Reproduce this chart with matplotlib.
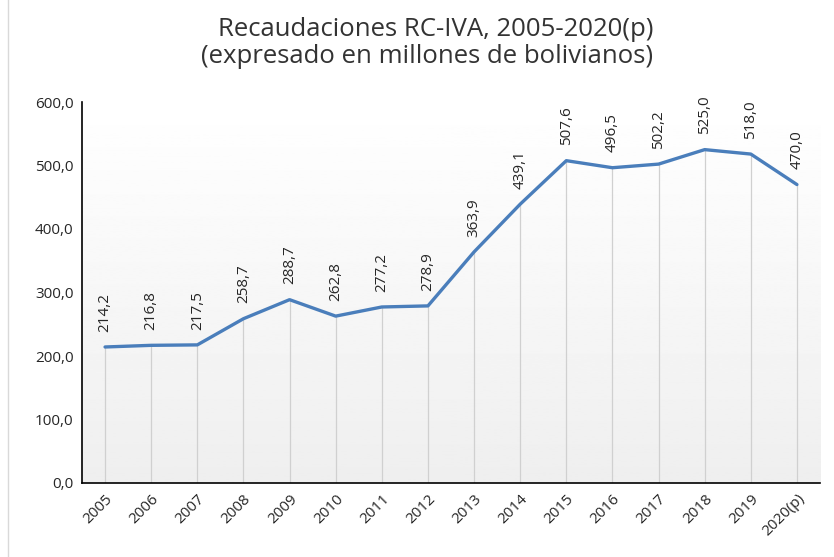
import matplotlib.pyplot as plt
import numpy as np

# Data
years = ["2005", "2006", "2007", "2008", "2009", "2010", "2011", "2012",
         "2013", "2014", "2015", "2016", "2017", "2018", "2019", "2020(p)"]
valores = [214.2, 216.8, 217.5, 258.7, 288.7, 262.8, 277.2, 278.9,
           363.9, 439.1, 507.6, 496.5, 502.2, 525.0, 518.0, 470.0]
yticks = [0, 100, 200, 300, 400, 500, 600]

plt.rcParams['font.family'] = ['Open Sans', 'DejaVu Sans']

fig = plt.figure(figsize=(8.34, 5.57), dpi=100)
ax = fig.add_axes([82 / 834, 1 - 483 / 557, 738 / 834, 381 / 557])

x = np.arange(len(years))
ax.set_xlim(-0.5, len(years) - 0.5)
ax.set_ylim(0, 600)

# gradient background (white top -> light gray bottom)
grad = np.linspace(1.0, 0.935, 256).reshape(-1, 1)
ax.imshow(grad, cmap='gray', vmin=0, vmax=1, aspect='auto',
          extent=(-0.5, len(years) - 0.5, 0, 600), origin='upper', zorder=0)

# drop lines
ax.vlines(x, 0, valores, color='#d0d0d0', lw=0.9, zorder=1)

ax.plot(x, valores, color='#4a7ebb', lw=2.4, zorder=3, solid_capstyle='round')

for xi, v in zip(x, valores):
    ax.annotate(f"{v:.1f}".replace('.', ','), (xi, v), xytext=(0, 11),
                textcoords='offset points', rotation=90, ha='center',
                va='bottom', fontsize=11, color='#262626')

ax.set_xticks(x)
ax.set_xticklabels(years, rotation=45, ha='right', rotation_mode='anchor',
                   fontsize=11, color='#262626')
ax.set_yticks(yticks)
ax.set_yticklabels([f"{t:.1f}".replace('.', ',') for t in yticks],
                   fontsize=11, color='#262626')
ax.tick_params(length=0, pad=6)

for s in ['top', 'right']:
    ax.spines[s].set_visible(False)
ax.spines['left'].set_color('black')
ax.spines['bottom'].set_color('black')
ax.spines['left'].set_linewidth(1.2)
ax.spines['bottom'].set_linewidth(1.2)

fig.text(436 / 834, 1 - 36 / 557, "Recaudaciones RC-IVA, 2005-2020(p)",
         ha='center', va='baseline', fontsize=18.5, color='#333333')
fig.text(427 / 834, 1 - 63 / 557, "(expresado en millones de bolivianos)",
         ha='center', va='baseline', fontsize=18.5, color='#333333')

# light border line on the left
fig.add_artist(plt.Line2D([8 / 834, 8 / 834], [0, 1], color='#d9d9d9', lw=1))

fig.savefig("out.png", dpi=100)
